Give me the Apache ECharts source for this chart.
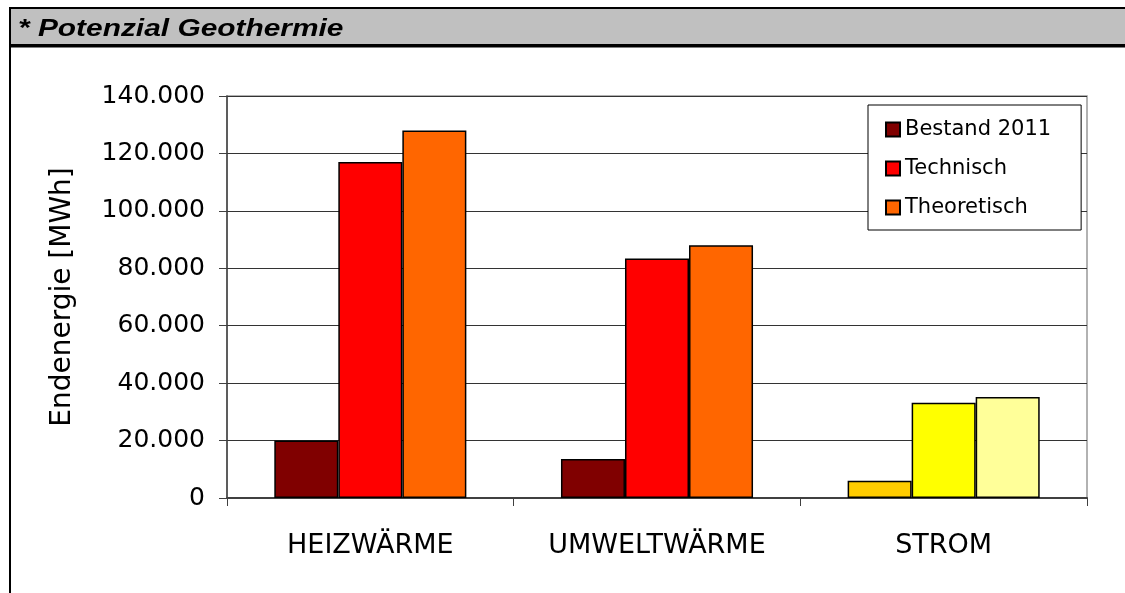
<!DOCTYPE html>
<html>
<head>
<meta charset="utf-8">
<script src="https://cdn.jsdelivr.net/npm/echarts@6/dist/echarts.min.js"></script>
<style>
html,body{margin:0;padding:0;background:#fff;}
#chart{width:1125px;height:593px;}
</style>
</head>
<body>
<div id="chart"></div>
<script>
const categories = ['HEIZWÄRME', 'UMWELTWÄRME', 'STROM'];
const seriesNames = ['Bestand 2011', 'Technisch', 'Theoretisch'];
const bestand = [20000, 13600, 6000];
const technisch = [117000, 83400, 33200];
const theoretisch = [128000, 88000, 35200];
const yTicks = [0, 20000, 40000, 60000, 80000, 100000, 120000, 140000];
const titleText = '* Potenzial Geothermie';

const seriesColors = ['#800000', '#ff0000', '#ff6600'];
const stromColors = ['#ffcc00', '#ffff00', '#ffff99'];
const allValues = [bestand, technisch, theoretisch];

const chart = echarts.init(document.getElementById('chart'), null, {renderer: 'canvas'});

function fmt(v) {
  return String(v).replace(/\B(?=(\d{3})+(?!\d))/g, '.');
}

const series = allValues.map((vals, si) => ({
  name: seriesNames[si],
  type: 'bar',
  barGap: '0%',
  barCategoryGap: '33%',
  itemStyle: {color: seriesColors[si], borderColor: '#000', borderWidth: 1.5},
  data: vals.map((v, ci) => ci === 2
    ? {value: v, itemStyle: {color: stromColors[si]}}
    : v)
}));

chart.setOption({
  animation: false,
  textStyle: {fontFamily: 'DejaVu Sans'},
  graphic: [
    {type: 'rect', shape: {x: 10, y: 8, width: 1130, height: 37}, style: {fill: '#c0c0c0', stroke: '#000', lineWidth: 2}, z: -10},
    {type: 'line', shape: {x1: 10, y1: 46, x2: 1125, y2: 46}, style: {stroke: '#000', lineWidth: 3}, z: -5},
    {type: 'line', shape: {x1: 10, y1: 8, x2: 10, y2: 593}, style: {stroke: '#000', lineWidth: 2}, z: -5},
    {type: 'text', x: 18, y: 17, scaleX: 1.245, z: 10,
     style: {text: titleText, fill: '#000', font: 'italic bold 24px "Liberation Sans"', textVerticalAlign: 'top'}}
  ],
  legend: {
    orient: 'vertical',
    left: 868, top: 105,
    itemWidth: 14, itemHeight: 14,
    itemGap: 18,
    padding: [14, 30, 12, 17],
    icon: 'rect',
    borderColor: '#000', borderWidth: 1,
    backgroundColor: '#fff',
    textStyle: {fontFamily: 'DejaVu Sans', fontSize: 21, color: '#000'},
    data: seriesNames
  },
  grid: {
    left: 227, right: 38, top: 96, bottom: 95,
    show: true, borderColor: '#999', borderWidth: 1.5
  },
  xAxis: {
    type: 'category',
    data: categories,
    axisLine: {lineStyle: {color: '#404040', width: 2}},
    axisTick: {show: true, length: 8, lineStyle: {color: '#404040'}},
    axisLabel: {fontSize: 27, color: '#000', margin: 34, fontFamily: 'DejaVu Sans'}
  },
  yAxis: {
    type: 'value',
    min: 0, max: 140000, interval: 20000,
    name: 'Endenergie [MWh]',
    nameLocation: 'middle',
    nameGap: 150,
    nameTextStyle: {fontSize: 28, color: '#000', fontFamily: 'DejaVu Sans'},
    axisLine: {show: true, lineStyle: {color: '#404040', width: 1.5}},
    axisTick: {show: true, length: 8, lineStyle: {color: '#404040'}},
    axisLabel: {fontSize: 25, color: '#000', margin: 22, formatter: v => fmt(v)},
    splitLine: {show: true, lineStyle: {color: '#333', width: 1}}
  },
  series: series
});
</script>
</body>
</html>
